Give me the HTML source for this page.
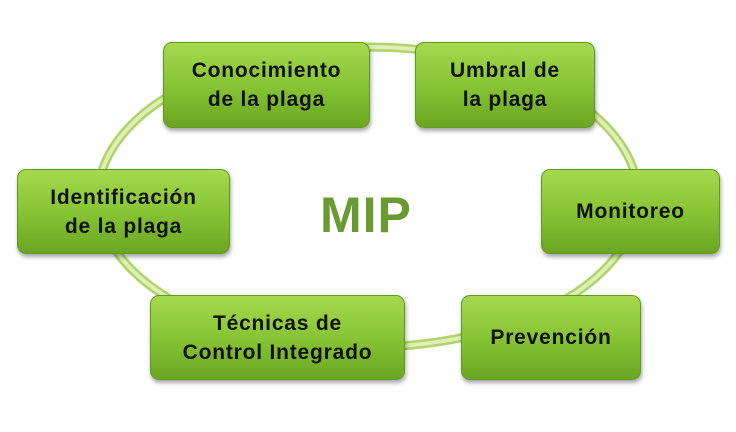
<!DOCTYPE html>
<html><head><meta charset="utf-8"><style>
body{margin:0;width:736px;height:432px;background:#fff;position:relative;overflow:hidden;font-family:"Liberation Sans",sans-serif}
.b{position:absolute;box-sizing:border-box;border-radius:9px;background:linear-gradient(#a6d94e,#84c232 55%,#6ba523);border:1px solid #5f9a22;box-shadow:1px 3px 4px rgba(0,0,0,.35);display:flex;align-items:center;justify-content:center;text-align:center;font-weight:bold;font-size:21px;letter-spacing:0.8px;line-height:29px;color:#111}
.m{position:absolute;left:320px;top:186px;font-size:50px;font-weight:bold;color:#6b9a32;letter-spacing:1px}
</style></head><body>
<svg width="736" height="432" style="position:absolute;left:0;top:0">
<ellipse cx="368" cy="197" rx="270" ry="150" fill="none" stroke="#b0d36c" stroke-width="9"/>
<ellipse cx="368" cy="197" rx="270" ry="150" fill="none" stroke="#def0b4" stroke-width="4"/>
</svg>
<div class="b" style="left:163px;top:42px;width:207px;height:86px">Conocimiento<br>de la plaga</div>
<div class="b" style="left:415px;top:42px;width:180px;height:86px">Umbral de<br>la plaga</div>
<div class="b" style="left:541px;top:169px;width:179px;height:85px">Monitoreo</div>
<div class="b" style="left:461px;top:295px;width:180px;height:85px">Prevención</div>
<div class="b" style="left:150px;top:295px;width:255px;height:85px">Técnicas de<br>Control Integrado</div>
<div class="b" style="left:17px;top:169px;width:213px;height:85px">Identificación<br>de la plaga</div>
<div class="m">MIP</div>
</body></html>
